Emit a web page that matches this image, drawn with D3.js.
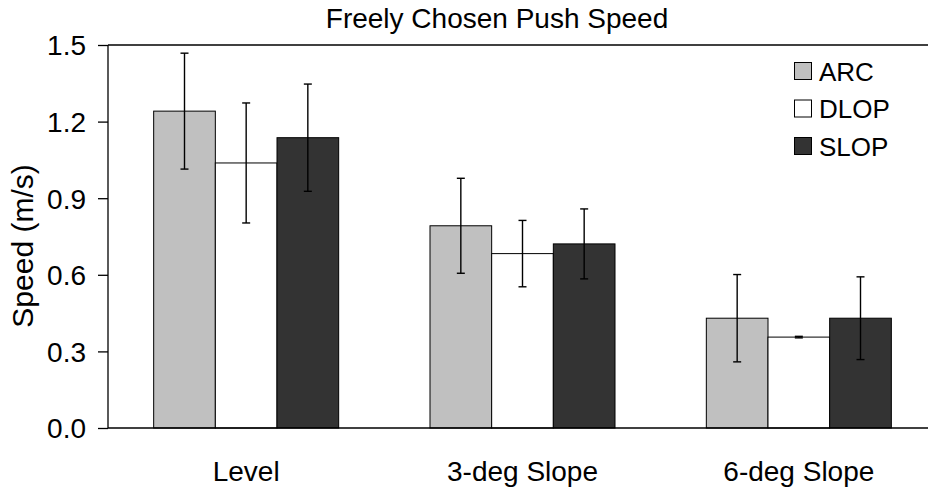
<!DOCTYPE html>
<html><head><meta charset="utf-8">
<script src="https://cdn.jsdelivr.net/npm/d3@7"></script>
<style>body{margin:0;background:#fff}svg{display:block}text{font-family:"Liberation Sans",Arial,sans-serif;fill:#000}</style>
</head><body><svg id="c" width="928" height="491"></svg>
<script>
const categories = ["Level", "3-deg Slope", "6-deg Slope"];
const seriesNames = ["ARC", "DLOP", "SLOP"];
const arcMean = [1.241, 0.792, 0.430];
const arcErr = [0.227, 0.186, 0.171];
const dlopMean = [1.038, 0.683, 0.356];
const dlopErr = [0.235, 0.130, 0.003];
const slopMean = [1.137, 0.721, 0.430];
const slopErr = [0.210, 0.137, 0.162];
const yTicks = [0, 0.3, 0.6, 0.9, 1.2, 1.5];
const colors = {ARC: "#c0c0c0", DLOP: "#ffffff", SLOP: "#333333"};

(function () {
const means = {ARC: arcMean, DLOP: dlopMean, SLOP: slopMean};
const errs = {ARC: arcErr, DLOP: dlopErr, SLOP: slopErr};
const rows = [];
categories.forEach((c, i) => seriesNames.forEach(s => rows.push({cat: c, s, v: means[s][i], e: errs[s][i]})));

const W = 928;
const mLeft = 108, mTop = 45, mBottom = 428, rightExt = 937;
const svg = d3.select("#c");
const y = d3.scaleLinear().domain([0, 1.5]).range([mBottom, mTop]);
const x0 = d3.scaleBand().domain(categories).range([mLeft, rightExt]).paddingInner(0.3305).paddingOuter(0.16525);
const x1 = d3.scaleBand().domain(seriesNames).range([0, x0.bandwidth()]);

// bars
svg.append("g").selectAll("rect").data(rows).join("rect")
  .attr("x", d => x0(d.cat) + x1(d.s))
  .attr("y", d => y(d.v))
  .attr("width", x1.bandwidth())
  .attr("height", d => y(0) - y(d.v))
  .attr("fill", d => colors[d.s])
  .attr("stroke", "#000").attr("stroke-width", 1);

// error bars
const eg = svg.append("g").attr("stroke", "#000").attr("stroke-width", 1.4);
rows.forEach(d => {
  const cx = x0(d.cat) + x1(d.s) + x1.bandwidth() / 2;
  const hi = y(d.v + d.e), lo = y(d.v - d.e);
  eg.append("line").attr("x1", cx).attr("x2", cx).attr("y1", hi).attr("y2", lo);
  eg.append("line").attr("x1", cx - 4).attr("x2", cx + 4).attr("y1", hi).attr("y2", hi);
  eg.append("line").attr("x1", cx - 4).attr("x2", cx + 4).attr("y1", lo).attr("y2", lo);
});

// y axis
const yAxis = d3.axisLeft(y).tickValues(yTicks).tickFormat(d3.format(".1f")).tickSize(10).tickPadding(12);
const ga = svg.append("g").attr("transform", `translate(${mLeft},0)`).call(yAxis);
ga.attr("font-family", null).attr("font-size", null);
ga.select(".domain").attr("stroke", "#000").attr("stroke-width", 1.3).attr("d", `M0,${mTop}V${mBottom}`);
ga.selectAll(".tick line").attr("stroke", "#000").attr("stroke-width", 1.3);
ga.selectAll(".tick text").style("font-size", "28px").attr("dy", "0.35em");

// top border and x axis line
svg.append("line").attr("x1", mLeft).attr("x2", W).attr("y1", mTop).attr("y2", mTop).attr("stroke", "#000").attr("stroke-width", 1.3);
svg.append("line").attr("x1", mLeft).attr("x2", W).attr("y1", mBottom).attr("y2", mBottom).attr("stroke", "#000").attr("stroke-width", 1.3);

// category labels
svg.append("g").selectAll("text").data(categories).join("text")
  .attr("x", d => x0(d) + x0.bandwidth() / 2).attr("y", 481)
  .attr("text-anchor", "middle").style("font-size", "28px").text(d => d);

// title
svg.append("text").attr("x", 497).attr("y", 28).attr("text-anchor", "middle").style("font-size", "28px").text("Freely Chosen Push Speed");

// y label
svg.append("text").attr("transform", "translate(33,246) rotate(-90)").attr("text-anchor", "middle").style("font-size", "30px").text("Speed (m/s)");

// legend
const lg = svg.append("g");
seriesNames.forEach((s, i) => {
  const cy = 71 + i * 37.5;
  lg.append("rect").attr("x", 794.5).attr("y", cy - 8.5).attr("width", 17).attr("height", 17).attr("fill", colors[s]).attr("stroke", "#000").attr("stroke-width", 1);
  lg.append("text").attr("x", 819).attr("y", cy + 9.5).style("font-size", "26px").text(s);
});
})();
</script></body></html>
